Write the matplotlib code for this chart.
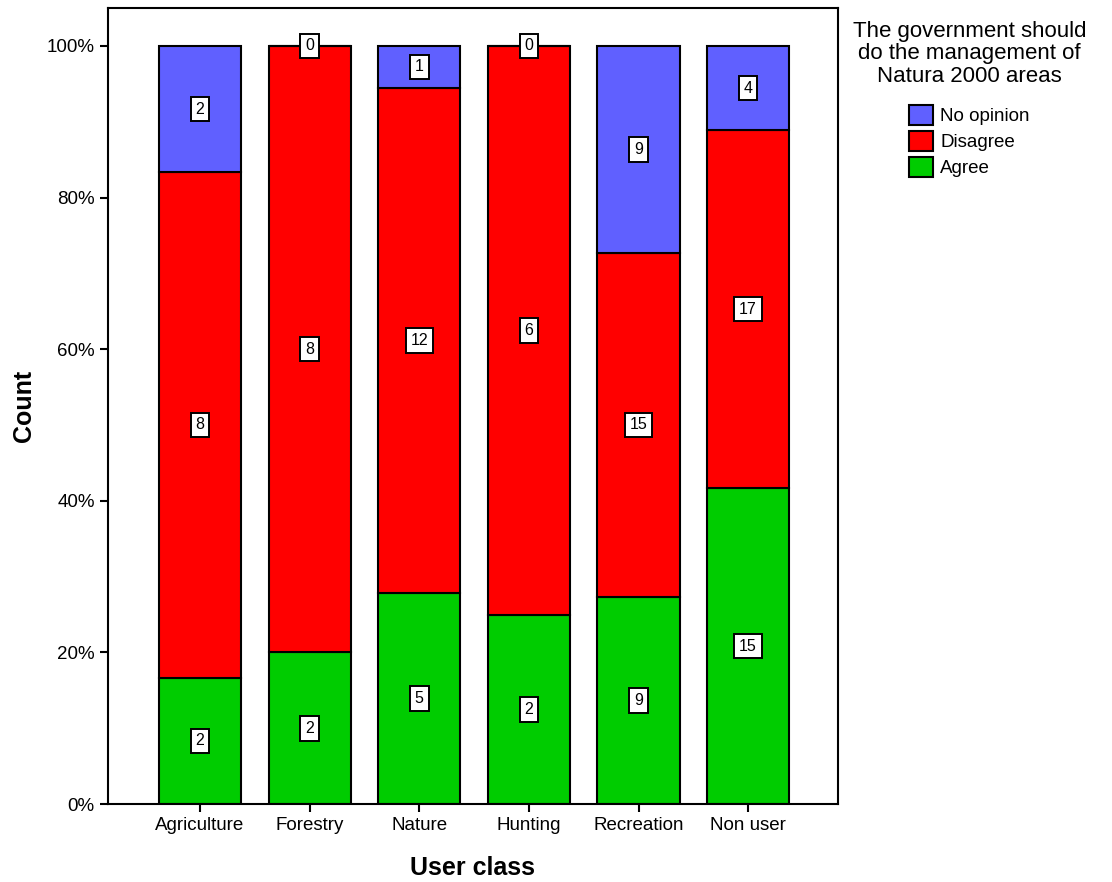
import numpy as np
import matplotlib
matplotlib.use('Agg')
import matplotlib.pyplot as plt
from matplotlib.ticker import FuncFormatter

plt.rcParams['font.family'] = ['Liberation Sans', 'DejaVu Sans']

# data (counts per user class)
classes = ['Agriculture', 'Forestry', 'Nature', 'Hunting', 'Recreation', 'Non user']
agree = [2, 2, 5, 2, 9, 15]
disagree = [8, 8, 12, 6, 15, 17]
no_opinion = [2, 0, 1, 0, 9, 4]

series = [('Agree', agree, '#00cc00'),
          ('Disagree', disagree, '#ff0000'),
          ('No opinion', no_opinion, '#6060ff')]

counts = np.array([agree, disagree, no_opinion], dtype=float)
totals = counts.sum(axis=0)
pct = counts / totals * 100

fig = plt.figure(figsize=(11.12, 8.82), dpi=100)
ax = fig.add_axes([0.0971, 0.0884, 0.6565, 0.9025])

x = np.arange(len(classes))
bottom = np.zeros(len(classes))
handles = []
for i, (name, vals, col) in enumerate(series):
    b = ax.bar(x, pct[i], 0.75, bottom=bottom, color=col, edgecolor='black',
               linewidth=1.5, label=name, zorder=2)
    handles.append(b)
    for j in range(len(classes)):
        ax.text(x[j], bottom[j] + pct[i][j] / 2, str(vals[j]), ha='center', va='center',
                fontsize=11.5, zorder=5,
                bbox=dict(boxstyle='square,pad=0.3', facecolor='white', edgecolor='black', linewidth=1.4))
    bottom += pct[i]

ax.set_xlim(-0.84, 5.82)
ax.set_ylim(0, 105)
ax.set_yticks([0, 20, 40, 60, 80, 100])
ax.yaxis.set_major_formatter(FuncFormatter(lambda v, p: '%d%%' % v))
ax.set_xticks(x)
ax.set_xticklabels(classes)
ax.tick_params(axis='both', labelsize=13.5, width=1.5, length=6, direction='out')
for s in ax.spines.values():
    s.set_linewidth(1.5)

ax.set_xlabel('User class', fontsize=18, fontweight='bold', labelpad=16)
ax.set_ylabel('Count', fontsize=18, fontweight='bold', labelpad=8)

leg = fig.legend(handles[::-1], ['No opinion', 'Disagree', 'Agree'],
                 title='The government should\ndo the management of\nNatura 2000 areas',
                 loc='upper center', bbox_to_anchor=(0.872, 0.985), frameon=False,
                 fontsize=13.5, title_fontsize=16, handlelength=1.25, handleheight=1.25,
                 handletextpad=0.4, labelspacing=0.3, borderaxespad=0)
leg.get_title().set_multialignment('center')
leg.get_title().set_linespacing(1.1)
leg._legend_box.sep = 13

fig.savefig('out.png', dpi=100)
